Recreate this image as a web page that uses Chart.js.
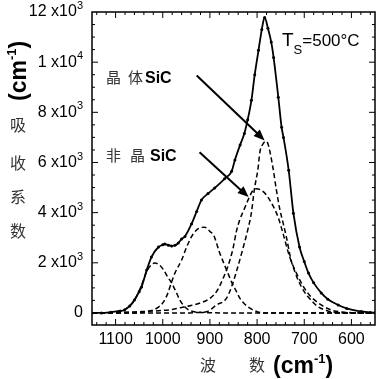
<!DOCTYPE html>
<html><head><meta charset="utf-8">
<script src="https://cdn.jsdelivr.net/npm/chart.js@4/dist/chart.umd.min.js"></script>
<style>html,body{margin:0;padding:0;background:#fff}canvas{display:block}</style>
</head><body>
<canvas id="c" width="380" height="379"></canvas>
<script>
// Measured spectrum (solid line with dots)
const sW = [1150,1130,1110,1090,1081,1070,1060,1050,1045,1034,1024,1009,1000,996,988,981,974,967,960,953,939,928,918,904,890,869,854,847,836,827,820,812,805,797,790,784,777,770,765,755,748,744,733,723,710,700,691,680,664,650,628,610,579,560,550];
const sV = [0,0,30,80,120,280,520,850,1035,1710,2230,2630,2720,2750,2700,2670,2700,2790,2950,3050,3550,4050,4500,4760,4980,5350,5650,6100,6700,7160,7700,8480,9500,10470,11300,11780,11350,10800,10190,8600,7400,7000,5690,3980,2630,2050,1590,1200,800,550,320,180,60,20,10];
// Fitted components (dashed)
const aW = [1150,1120,1100,1080,1070,1060,1050,1040,1034,1025,1017,1008,998,990,981,972,964,955,945,930,900,850,550];
const aV = [0,10,40,150,280,500,880,1350,1650,1900,1990,1930,1710,1450,1190,850,520,280,120,40,10,0,0];
const bW = [1150,1060,1040,1020,1010,1000,990,981,974,960,950,939,930,920,911,900,892,880,869,860,854,845,837,826,816,800,786,550];
const bV = [0,0,40,120,220,400,750,1250,1600,2110,2600,3040,3280,3400,3420,3250,3100,2430,1910,1500,1230,900,600,350,200,50,0,0];
const cW = [1150,1100,1050,1000,980,960,940,920,900,886,872,861,851,844,837,827,818,810,801,790,780,770,763,755,745,731,713,692,664,640,620,600,550];
const cV = [0,20,50,100,140,220,300,400,580,850,1380,1910,2570,3240,3700,4150,4550,4850,4950,4880,4700,4400,4150,3800,3170,2240,1450,780,320,100,40,10,0];
const dW = [1150,950,925,907,886,865,854,844,830,819,812,806,798,794,787,781,777,773,766,759,752,745,738,728,720,713,700,692,680,671,650,636,620,550];
const dV = [0,0,20,50,320,580,1050,1640,2570,3370,4000,4900,5760,6420,6750,6850,6750,6450,5750,4900,4150,3600,3040,2110,1650,1310,850,650,400,250,80,20,0,0];

const xTicks = [600,700,800,900,1000,1100];
const yTicks = [0,2000,4000,6000,8000,10000,12000];
// y tick labels: [mantissa part, exponent]
const yTickBase = ['0','2 x10','4 x10','6 x10','8 x10','1 x10','12 x10'];
const yTickExp  = ['','3','3','3','3','4','3'];

function pts(w,v){return w.map((x,i)=>({x:x,y:v[i]}));}

const dash = {borderColor:'#000', borderWidth:1.5, borderDash:[5,3], pointRadius:0, fill:false, cubicInterpolationMode:'monotone'};
const F = '"Liberation Sans", Arial';

function drawSeg(ctx, segs, x, y){
  let cx = x;
  for(const s of segs){
    ctx.font = s[1];
    ctx.fillText(s[0], cx, y + (s[2]||0));
    cx += ctx.measureText(s[0]).width;
  }
}
function segWidth(ctx, segs){
  let w=0; for(const s of segs){ctx.font=s[1]; w+=ctx.measureText(s[0]).width;} return w;
}
function arrow(ctx,x1,y1,x2,y2){
  const a=Math.atan2(y2-y1,x2-x1), hl=11, hw=4.5;
  ctx.beginPath(); ctx.moveTo(x1,y1); ctx.lineTo(x2-hl*0.8*Math.cos(a), y2-hl*0.8*Math.sin(a)); ctx.stroke();
  ctx.beginPath(); ctx.moveTo(x2,y2);
  ctx.lineTo(x2-hl*Math.cos(a)+hw*Math.sin(a), y2-hl*Math.sin(a)-hw*Math.cos(a));
  ctx.lineTo(x2-hl*Math.cos(a)-hw*Math.sin(a), y2-hl*Math.sin(a)+hw*Math.cos(a));
  ctx.closePath(); ctx.fill();
}

const frame = {id:'frame', afterDraw(chart){
  const ctx=chart.ctx, a=chart.chartArea, x=chart.scales.x, y=chart.scales.y;
  ctx.save();
  ctx.strokeStyle='#000'; ctx.fillStyle='#000';
  ctx.lineWidth=1.5;
  ctx.strokeRect(a.left, a.top, a.right-a.left, a.bottom-a.top);
  ctx.lineWidth=1;
  ctx.beginPath();
  for(let w=560; w<=1140; w+=20){
    const px=x.getPixelForValue(w), L=(w%100===0)?6:3;
    ctx.moveTo(px,a.bottom); ctx.lineTo(px,a.bottom-L);
    ctx.moveTo(px,a.top); ctx.lineTo(px,a.top+L);
  }
  for(let v=0; v<12000; v+=500){
    const py=y.getPixelForValue(v), L=(v%2000===0)?6:3;
    ctx.moveTo(a.left,py); ctx.lineTo(a.left+L,py);
    ctx.moveTo(a.right,py); ctx.lineTo(a.right-L,py);
  }
  ctx.stroke();

  // y tick labels with superscripts
  ctx.textBaseline='middle'; ctx.textAlign='left';
  yTicks.forEach((v,i)=>{
    const segs=[[yTickBase[i],'16px '+F,0]];
    if(yTickExp[i]) segs.push([yTickExp[i],'11px '+F,-6]);
    const w=segWidth(ctx,segs);
    drawSeg(ctx, segs, a.left-9-w, y.getPixelForValue(v));
  });

  // arrows
  ctx.lineWidth=2;
  arrow(ctx, x.getPixelForValue(928), y.getPixelForValue(9470), x.getPixelForValue(784), y.getPixelForValue(6880));
  arrow(ctx, x.getPixelForValue(922), y.getPixelForValue(6410), x.getPixelForValue(818), y.getPixelForValue(4620));

  // annotation texts
  ctx.textBaseline='alphabetic'; ctx.textAlign='left';
  ctx.fillStyle='#333';
  ctx.font='15px "Noto Sans CJK SC"';
  ctx.fillText('晶',106,83); ctx.fillText('体',128,83);
  ctx.fillText('非',106,161); ctx.fillText('晶',130,161);
  ctx.fillStyle='#000';
  ctx.font='bold 16px '+F;
  ctx.fillText('SiC',145,83); ctx.fillText('SiC',150,161);
  // T_S=500°C
  drawSeg(ctx, [['T','19px '+F,0],['S','13px '+F,8],['=500°C','17px '+F,0]], 282, 46);

  // x-axis title
  ctx.fillStyle='#333';
  ctx.font='16px "Noto Sans CJK SC"';
  ctx.fillText('波',200,371); ctx.fillText('数',249,371);
  ctx.fillStyle='#000';
  drawSeg(ctx, [['(cm','bold 23px '+F,0],['-1','bold 13px '+F,-10],[')','bold 23px '+F,0]], 273, 373);

  // y-axis title
  ctx.save();
  ctx.translate(26, 101); ctx.rotate(-Math.PI/2);
  drawSeg(ctx, [['(cm','bold 23px '+F,0],['-1','bold 13px '+F,-10],[')','bold 23px '+F,0]], 0, 0);
  ctx.restore();
  ctx.fillStyle='#333';
  ctx.font='16px "Noto Sans CJK SC"';
  ctx.textAlign='center'; ctx.textBaseline='middle';
  ctx.fillText('吸',18,125); ctx.fillText('收',18,163); ctx.fillText('系',18,197); ctx.fillText('数',18,231);
  ctx.restore();
}};

new Chart(document.getElementById('c'), {
  type:'line',
  data:{datasets:[
    Object.assign({data:pts(aW,aV)}, dash),
    Object.assign({data:pts(bW,bV)}, dash),
    Object.assign({data:pts(cW,cV)}, dash),
    Object.assign({data:pts(dW,dV)}, dash),
    {data:pts(sW,sV), borderColor:'#000', borderWidth:1.8, pointRadius:1.5, pointBackgroundColor:'#000', pointBorderWidth:0, fill:false, cubicInterpolationMode:'monotone'}
  ]},
  options:{
    responsive:false, animation:false, devicePixelRatio:1,
    layout:{padding:{left:0,right:5,top:12,bottom:0}},
    plugins:{legend:{display:false}, tooltip:{enabled:false}},
    scales:{
      x:{type:'linear', reverse:true, min:550, max:1150,
         grid:{display:false, drawTicks:false}, border:{display:false},
         afterBuildTicks:s=>{s.ticks=xTicks.map(v=>({value:v}));},
         afterFit:s=>{s.height=54;},
         ticks:{color:'#000', font:{family:F, size:16}, padding:5, maxRotation:0, autoSkip:false,
                callback:v=>String(v)}},
      y:{type:'linear', min:-480, max:12000,
         grid:{display:false, drawTicks:false}, border:{display:false},
         afterBuildTicks:s=>{s.ticks=yTicks.map(v=>({value:v}));},
         afterFit:s=>{s.width=92;},
         ticks:{display:false}}
    }
  },
  plugins:[frame]
});
</script>
</body></html>
